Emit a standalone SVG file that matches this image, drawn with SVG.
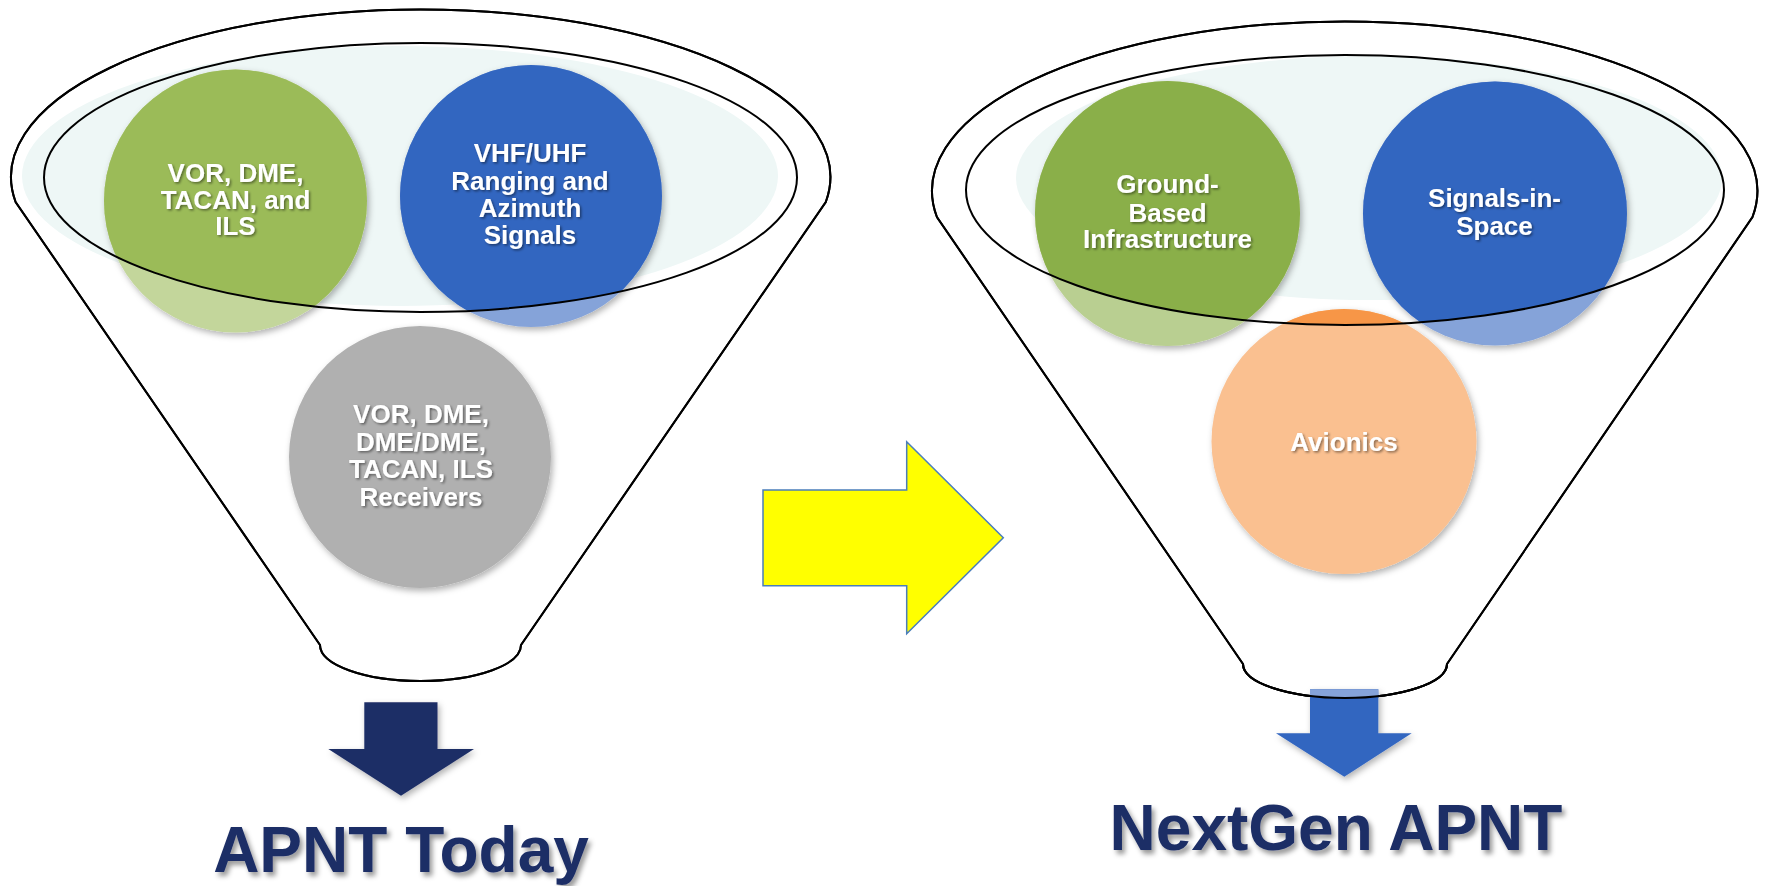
<svg xmlns="http://www.w3.org/2000/svg" width="1766" height="886" viewBox="0 0 1766 886">
<style>
.lbl{font-family:"Liberation Sans",Arial,sans-serif;font-weight:bold;font-size:26px;fill:#fff;text-anchor:middle}
.title{font-family:"Liberation Sans",Arial,sans-serif;font-weight:bold;font-size:64px;fill:#1F2F66;text-anchor:middle}
.outline{fill:#fff;stroke:#000;stroke-width:2}
.rim{fill:none;stroke:#000;stroke-width:2}
.glow{fill:#EEF7F6}
</style>
<defs>
<filter id="sh" x="-20%" y="-20%" width="140%" height="140%">
<feDropShadow dx="2" dy="3" stdDeviation="3" flood-color="#000" flood-opacity="0.3"/>
</filter>
<filter id="tsh" x="-10%" y="-20%" width="120%" height="140%">
<feDropShadow dx="1.5" dy="1.5" stdDeviation="1" flood-color="#000" flood-opacity="0.45"/>
</filter>
<filter id="ttl" x="-10%" y="-20%" width="120%" height="150%">
<feDropShadow dx="3" dy="4" stdDeviation="2.5" flood-color="#000" flood-opacity="0.4"/>
</filter>
<clipPath id="inL"><ellipse cx="420.5" cy="177.5" rx="376.5" ry="134.5"/></clipPath>
<clipPath id="inR"><ellipse cx="1345" cy="190" rx="379" ry="135"/></clipPath>
<clipPath id="funR"><path d="M936.9,217 A412.7,169.5 0 1 1 1752.5,217 L1447,664 A102,34 0 0 1 1243,664 Z"/></clipPath>
</defs>

<!-- funnel bodies -->
<g id="funnel-today">
<path class="outline" d="M15.6,202 A409.7,167.5 0 1 1 825.8,202 L521,645 A100.5,36 0 0 1 320,645 Z"/>
<ellipse class="glow" cx="400" cy="176" rx="378" ry="130"/>
</g>
<g id="funnel-nextgen">
<path class="outline" d="M936.9,217 A412.7,169.5 0 1 1 1752.5,217 L1447,664 A102,34 0 0 1 1243,664 Z"/>
<ellipse class="glow" cx="1369" cy="178" rx="353" ry="122"/>
</g>

<!-- left funnel nodes -->
<g id="node-vor-dme-tacan-ils">
<g filter="url(#sh)">
<circle cx="235.5" cy="201" r="131.5" fill="#C3D69B"/>
<circle cx="235.5" cy="201" r="131.5" fill="#9BBB59" clip-path="url(#inL)"/>
</g>
<text class="lbl" filter="url(#tsh)"><tspan x="235.5" y="182">VOR, DME,</tspan><tspan x="235.5" y="208.5">TACAN, and</tspan><tspan x="235.5" y="235">ILS</tspan></text>
</g>
<g id="node-vhf-uhf">
<g filter="url(#sh)">
<circle cx="531" cy="196" r="131" fill="#85A3D9"/>
<circle cx="531" cy="196" r="131" fill="#3366C0" clip-path="url(#inL)"/>
</g>
<text class="lbl" filter="url(#tsh)"><tspan x="530" y="162">VHF/UHF</tspan><tspan x="530" y="189.5">Ranging and</tspan><tspan x="530" y="216.7">Azimuth</tspan><tspan x="530" y="244">Signals</tspan></text>
</g>
<g id="node-receivers">
<circle cx="420" cy="457" r="131" fill="#B0B0B0" filter="url(#sh)"/>
<text class="lbl" filter="url(#tsh)"><tspan x="421" y="423.3">VOR, DME,</tspan><tspan x="421" y="451">DME/DME,</tspan><tspan x="421" y="478.3">TACAN, ILS</tspan><tspan x="421" y="505.7">Receivers</tspan></text>
</g>

<!-- right funnel nodes -->
<g id="node-ground-based">
<g filter="url(#sh)">
<circle cx="1167.5" cy="213.5" r="132.5" fill="#B9CF91"/>
<circle cx="1167.5" cy="213.5" r="132.5" fill="#8AAF48" clip-path="url(#inR)"/>
</g>
<text class="lbl" filter="url(#tsh)"><tspan x="1167.5" y="193.3">Ground-</tspan><tspan x="1167.5" y="221.7">Based</tspan><tspan x="1167.5" y="248.3">Infrastructure</tspan></text>
</g>
<g id="node-signals-in-space">
<g filter="url(#sh)">
<circle cx="1495" cy="213.5" r="132" fill="#85A3D9"/>
<circle cx="1495" cy="213.5" r="132" fill="#3366C0" clip-path="url(#inR)"/>
</g>
<text class="lbl" filter="url(#tsh)"><tspan x="1494.5" y="206.7">Signals-in-</tspan><tspan x="1494.5" y="235">Space</tspan></text>
</g>
<g id="node-avionics">
<g filter="url(#sh)">
<circle cx="1344" cy="441.5" r="132.5" fill="#FAC090"/>
<circle cx="1344" cy="441.5" r="132.5" fill="#F79646" clip-path="url(#inR)"/>
</g>
<text class="lbl" filter="url(#tsh)" x="1344" y="450.7">Avionics</text>
</g>

<!-- funnel rims (drawn over nodes) -->
<g id="rims">
<path class="rim" d="M15.6,202 A409.7,167.5 0 1 1 825.8,202 L521,645 A100.5,36 0 0 1 320,645 Z"/>
<ellipse class="rim" cx="420.5" cy="177.5" rx="376.5" ry="134.5"/>
<path class="rim" d="M936.9,217 A412.7,169.5 0 1 1 1752.5,217 L1447,664 A102,34 0 0 1 1243,664 Z"/>
<ellipse class="rim" cx="1345" cy="190" rx="379" ry="135"/>
</g>

<!-- connectors -->
<g id="connectors">
<path id="arrow-transition" d="M763,490 H906.7 V441.7 L1003.3,537.7 L906.7,633.7 V585.7 H763 Z" fill="#FFFF00" stroke="#4A7EBB" stroke-width="1.5"/>
<path id="arrow-today" d="M364.3,702.3 H437.5 V749 H474 L401,795.7 L328.3,749 H364.3 Z" fill="#1F2F66" filter="url(#sh)"/>
<g id="arrow-nextgen">
<path d="M1310,689.3 H1378.3 V733.3 H1411.7 L1344.3,776.7 L1276,733.3 H1310 Z" fill="#3366C0" filter="url(#sh)"/>
<rect x="1310" y="689.3" width="68.3" height="12" fill="#85A3D9" clip-path="url(#funR)"/>
<path class="rim" d="M1243,664 A102,34 0 0 0 1447,664"/>
</g>
</g>

<!-- titles -->
<g id="title-today"><text class="title" x="401" y="872" filter="url(#ttl)">APNT Today</text></g>
<g id="title-nextgen"><text class="title" x="1336" y="849.7" filter="url(#ttl)">NextGen APNT</text></g>
</svg>
